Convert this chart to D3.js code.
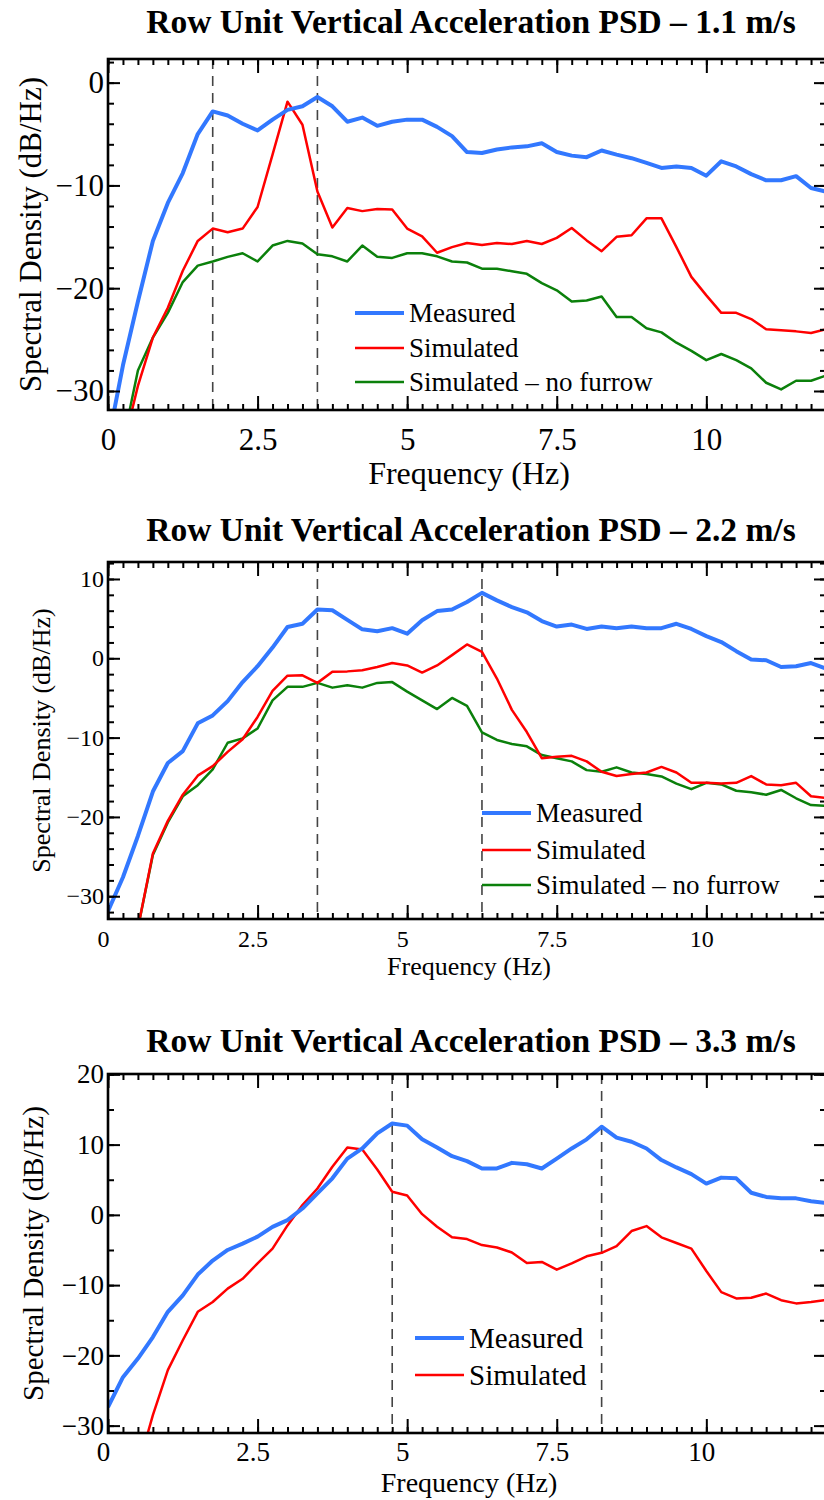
<!DOCTYPE html>
<html lang="en">
<head>
<meta charset="UTF-8">
<title>Row Unit Vertical Acceleration PSD</title>
<script src="https://d3js.org/d3.v7.min.js"></script>
<style>
  body { margin: 0; background: #fff; }
  svg { display: block; }
</style>
</head>
<body>
<div id="chart"></div>
<script>
// frequency grid (Hz), shared by all three panels
const freq = [0, 0.25, 0.5, 0.75, 1, 1.25, 1.5, 1.75, 2, 2.25, 2.5, 2.75, 3, 3.25, 3.5, 3.75,
  4, 4.25, 4.5, 4.75, 5, 5.25, 5.5, 5.75, 6, 6.25, 6.5, 6.75, 7, 7.25, 7.5, 7.75,
  8, 8.25, 8.5, 8.75, 9, 9.25, 9.5, 9.75, 10, 10.25, 10.5, 10.75, 11, 11.25, 11.5, 11.75, 12];

// 1.1 m/s
const measured11 = [-35, -27.5, -21.3, -15.4, -11.7, -8.8, -5.0, -2.8, -3.2, -4.0, -4.65, -3.6, -2.65, -2.3, -1.4, -2.3,
  -3.8, -3.4, -4.2, -3.8, -3.6, -3.6, -4.3, -5.2, -6.75, -6.85, -6.5, -6.3, -6.2, -5.9, -6.75, -7.1,
  -7.25, -6.6, -7.0, -7.35, -7.8, -8.3, -8.15, -8.3, -9.05, -7.65, -8.15, -8.9, -9.5, -9.5, -9.1, -10.25, -10.6];
const simulated11 = [-40, -35.5, -29.5, -24.8, -21.9, -18.3, -15.4, -14.2, -14.55, -14.2, -12.1, -7.0, -1.85, -4.1, -10.6, -14.1,
  -12.2, -12.5, -12.3, -12.35, -14.2, -14.95, -16.55, -16.0, -15.6, -15.8, -15.6, -15.7, -15.4, -15.7, -15.1, -14.15,
  -15.35, -16.4, -15.0, -14.85, -13.2, -13.2, -16.0, -18.9, -20.7, -22.4, -22.4, -23.0, -24.0, -24.1, -24.2, -24.35, -24.0];
const noFurrow11 = [-40, -35, -28.0, -24.8, -22.4, -19.4, -17.8, -17.4, -16.95, -16.6, -17.4, -15.85, -15.4, -15.65, -16.7, -16.9,
  -17.4, -15.85, -16.95, -17.05, -16.6, -16.6, -16.9, -17.4, -17.5, -18.1, -18.1, -18.35, -18.6, -19.5, -20.2, -21.3,
  -21.2, -20.8, -22.8, -22.8, -23.9, -24.3, -25.3, -26.1, -27.0, -26.4, -27.0, -27.8, -29.2, -29.85, -29.0, -29.0, -28.5];

// 2.2 m/s
const measured22 = [-31.9, -27.6, -22.4, -16.8, -13.2, -11.7, -8.2, -7.2, -5.4, -3.0, -1.0, 1.35, 3.95, 4.35, 6.15, 6.05,
  4.85, 3.65, 3.4, 3.8, 3.1, 4.8, 5.95, 6.15, 7.1, 8.25, 7.3, 6.45, 5.8, 4.7, 4.0, 4.25,
  3.7, 4.0, 3.8, 4.0, 3.8, 3.8, 4.35, 3.7, 2.8, 2.05, 0.9, -0.15, -0.25, -1.1, -1.0, -0.6, -1.3];
const simulated22 = [-45, -40, -34, -24.6, -20.5, -17.2, -14.8, -13.6, -11.8, -10.2, -7.4, -4.1, -2.2, -2.15, -3.1, -1.7,
  -1.65, -1.5, -1.1, -0.6, -0.9, -1.8, -0.9, 0.4, 1.75, 0.8, -2.55, -6.5, -9.3, -12.6, -12.4, -12.3,
  -13.0, -14.3, -14.85, -14.6, -14.4, -13.7, -14.4, -15.7, -15.7, -15.8, -15.7, -14.85, -15.9, -16.0, -15.7, -17.4, -17.6];
const noFurrow22 = [-45, -40, -34, -24.8, -20.7, -17.4, -16.0, -14.0, -10.65, -10.1, -8.85, -5.3, -3.6, -3.6, -3.1, -3.7,
  -3.4, -3.7, -3.1, -3.0, -4.2, -5.3, -6.4, -5.0, -6.0, -9.35, -10.3, -10.8, -11.1, -12.2, -12.6, -13.0,
  -14.1, -14.3, -13.75, -14.4, -14.6, -14.9, -15.8, -16.5, -15.7, -15.9, -16.7, -16.9, -17.2, -16.6, -17.65, -18.5, -18.6];

// 3.3 m/s
const measured33 = [-27.35, -23.1, -20.45, -17.4, -13.8, -11.45, -8.5, -6.5, -5.0, -4.1, -3.1, -1.7, -0.75, 0.9, 3.05, 5.2,
  8.0, 9.45, 11.6, 13.0, 12.7, 10.75, 9.6, 8.35, 7.65, 6.6, 6.6, 7.4, 7.2, 6.6, 8.0, 9.45,
  10.75, 12.55, 11.0, 10.4, 9.45, 7.8, 6.75, 5.8, 4.45, 5.3, 5.2, 3.15, 2.55, 2.35, 2.35, 1.95, 1.7];
const simulated33 = [-48, -42, -36, -28.5, -22.1, -17.85, -13.8, -12.4, -10.5, -9.1, -6.9, -4.8, -1.5, 1.4, 3.75, 6.85,
  9.6, 9.3, 6.45, 3.3, 2.75, 0.1, -1.7, -3.2, -3.45, -4.3, -4.65, -5.35, -6.85, -6.7, -7.8, -6.9,
  -5.9, -5.4, -4.45, -2.3, -1.6, -3.2, -4.0, -4.8, -8.0, -11.0, -11.9, -11.8, -11.2, -12.15, -12.6, -12.4, -12.1];

const xMajor = [0, 2.5, 5, 7.5, 10];
const seriesNames = ["Measured", "Simulated", "Simulated \u2013 no furrow"];
const colors = ["#3278ff", "#ff0000", "#0b800b"];
const widths = [4, 2.5, 2.5];

const FONT = "'Liberation Serif', 'Times New Roman', Times, serif";

const svg = d3.select("#chart").append("svg")
  .attr("width", 824)
  .attr("height", 1500)
  .attr("font-family", FONT);

svg.append("rect").attr("width", 824).attr("height", 1500).attr("fill", "#fff");

const panels = [
  {
    id: 1, title: "Row Unit Vertical Acceleration PSD \u2013 1.1 m/s",
    top: 59, bottom: 410, yDomain: [-31.85, 2.3], yMajor: [-30, -20, -10, 0], yMinorStep: 2,
    series: [measured11, simulated11, noFurrow11], peaks: [1.75, 3.5],
    titleY: 33, tickFont: 31, tickY: 450, tickShift: 0, labelFont: 32, xLabelY: 484,
    yLabelFont: 31, yLabelX: 41, legendX: 355, legendY: [313, 348, 382], legendFont: 27
  },
  {
    id: 2, title: "Row Unit Vertical Acceleration PSD \u2013 2.2 m/s",
    top: 562, bottom: 919, yDomain: [-32.87, 12.14], yMajor: [-30, -20, -10, 0, 10], yMinorStep: 2,
    series: [measured22, simulated22, noFurrow22], peaks: [3.5, 6.25],
    titleY: 541, tickFont: 24, tickY: 947, tickShift: -5, labelFont: 26, xLabelY: 975,
    yLabelFont: 26, yLabelX: 50, legendX: 482, legendY: [813, 850, 885], legendFont: 27
  },
  {
    id: 3, title: "Row Unit Vertical Acceleration PSD \u2013 3.3 m/s",
    top: 1074, bottom: 1433, yDomain: [-31.05, 20.05], yMajor: [-30, -20, -10, 0, 10, 20], yMinorStep: 5,
    series: [measured33, simulated33], peaks: [4.75, 8.25],
    titleY: 1052, tickFont: 27, tickY: 1461, tickShift: -5, labelFont: 28, xLabelY: 1492,
    yLabelFont: 29, yLabelX: 43, legendX: 415, legendY: [1338, 1375], legendFont: 29
  }
];

const left = 108, right = 826;

function drawPanel(p) {
  const x = d3.scaleLinear().domain([0, 12]).range([left, right]);
  const y = d3.scaleLinear().domain(p.yDomain).range([p.bottom, p.top]);
  const g = svg.append("g");

  g.append("clipPath").attr("id", "clip" + p.id)
    .append("rect")
    .attr("x", left).attr("y", p.top)
    .attr("width", right - left).attr("height", p.bottom - p.top);

  // dashed markers at the measured peaks
  g.selectAll(".peak").data(p.peaks).join("line")
    .attr("x1", d => x(d)).attr("x2", d => x(d))
    .attr("y1", p.top).attr("y2", p.bottom)
    .attr("stroke", "#444").attr("stroke-width", 1.6)
    .attr("stroke-dasharray", "10,7");

  const line = d3.line().x((d, i) => x(freq[i])).y(d => y(d));

  // draw green under red under blue
  const order = p.series.map((s, i) => i).reverse();
  order.forEach(i => {
    g.append("path")
      .datum(p.series[i])
      .attr("clip-path", `url(#clip${p.id})`)
      .attr("fill", "none")
      .attr("stroke", colors[i])
      .attr("stroke-width", widths[i])
      .attr("stroke-linejoin", "round")
      .attr("d", line);
  });

  // axes: minor ticks, then major ticks with labels
  const xMinor = d3.range(0, 12.001, 0.25);
  const yMinor = d3.range(Math.ceil(p.yDomain[0] / p.yMinorStep) * p.yMinorStep, p.yDomain[1], p.yMinorStep);

  function styleAxis(sel, fs) {
    sel.select(".domain").remove();
    sel.attr("font-family", FONT).attr("font-size", fs);
    sel.selectAll("line").attr("stroke", "#000").attr("stroke-width", 2);
    sel.selectAll("text").attr("fill", "#000");
  }

  g.append("g").attr("transform", `translate(0,${p.bottom})`)
    .call(d3.axisBottom(x).tickValues(xMinor).tickSizeInner(-6).tickSizeOuter(0).tickFormat(""))
    .call(s => styleAxis(s, p.tickFont));
  g.append("g").attr("transform", `translate(0,${p.bottom})`)
    .call(d3.axisBottom(x).tickValues(xMajor).tickSizeInner(-14).tickSizeOuter(0).tickFormat(d3.format("")))
    .call(s => styleAxis(s, p.tickFont))
    .call(s => s.selectAll("text").attr("dy", null).attr("y", p.tickY - p.bottom).attr("x", p.tickShift));

  g.append("g").attr("transform", `translate(0,${p.top})`)
    .call(d3.axisTop(x).tickValues(xMinor).tickSizeInner(-6).tickSizeOuter(0).tickFormat(""))
    .call(s => styleAxis(s, p.tickFont));
  g.append("g").attr("transform", `translate(0,${p.top})`)
    .call(d3.axisTop(x).tickValues(xMajor).tickSizeInner(-14).tickSizeOuter(0).tickFormat(""))
    .call(s => styleAxis(s, p.tickFont));

  g.append("g").attr("transform", `translate(${left},0)`)
    .call(d3.axisLeft(y).tickValues(yMinor).tickSizeInner(-6).tickSizeOuter(0).tickFormat(""))
    .call(s => styleAxis(s, p.tickFont));
  g.append("g").attr("transform", `translate(${left},0)`)
    .call(d3.axisLeft(y).tickValues(p.yMajor).tickSizeInner(-12).tickSizeOuter(0).tickPadding(4).tickFormat(d3.format("")))
    .call(s => styleAxis(s, p.tickFont));

  g.append("g").attr("transform", `translate(${right},0)`)
    .call(d3.axisRight(y).tickValues(yMinor).tickSizeInner(-6).tickSizeOuter(0).tickFormat(""))
    .call(s => styleAxis(s, p.tickFont));
  g.append("g").attr("transform", `translate(${right},0)`)
    .call(d3.axisRight(y).tickValues(p.yMajor).tickSizeInner(-12).tickSizeOuter(0).tickFormat(""))
    .call(s => styleAxis(s, p.tickFont));

  // frame
  g.append("rect")
    .attr("x", left).attr("y", p.top)
    .attr("width", right - left).attr("height", p.bottom - p.top)
    .attr("fill", "none").attr("stroke", "#000").attr("stroke-width", 2.6);

  // titles and axis labels
  g.append("text")
    .attr("x", 471).attr("y", p.titleY)
    .attr("text-anchor", "middle")
    .attr("font-family", FONT)
    .attr("font-weight", "bold").attr("font-size", 33.5)
    .text(p.title);

  g.append("text")
    .attr("x", 469).attr("y", p.xLabelY)
    .attr("text-anchor", "middle")
    .attr("font-family", FONT)
    .attr("font-size", p.labelFont)
    .text("Frequency (Hz)");

  g.append("text")
    .attr("transform", `translate(${p.yLabelX},${(p.top + p.bottom) / 2}) rotate(-90)`)
    .attr("text-anchor", "middle")
    .attr("font-family", FONT)
    .attr("font-size", p.yLabelFont)
    .text("Spectral Density (dB/Hz)");

  // legend
  const leg = g.append("g");
  p.series.forEach((s, i) => {
    const ly = p.legendY[i];
    leg.append("line")
      .attr("x1", p.legendX).attr("x2", p.legendX + 49)
      .attr("y1", ly).attr("y2", ly)
      .attr("stroke", colors[i]).attr("stroke-width", widths[i]);
    leg.append("text")
      .attr("x", p.legendX + 54).attr("y", ly + p.legendFont * 0.33)
      .attr("font-family", FONT)
      .attr("font-size", p.legendFont)
      .text(seriesNames[i]);
  });
}

panels.forEach(drawPanel);
</script>
</body>
</html>
